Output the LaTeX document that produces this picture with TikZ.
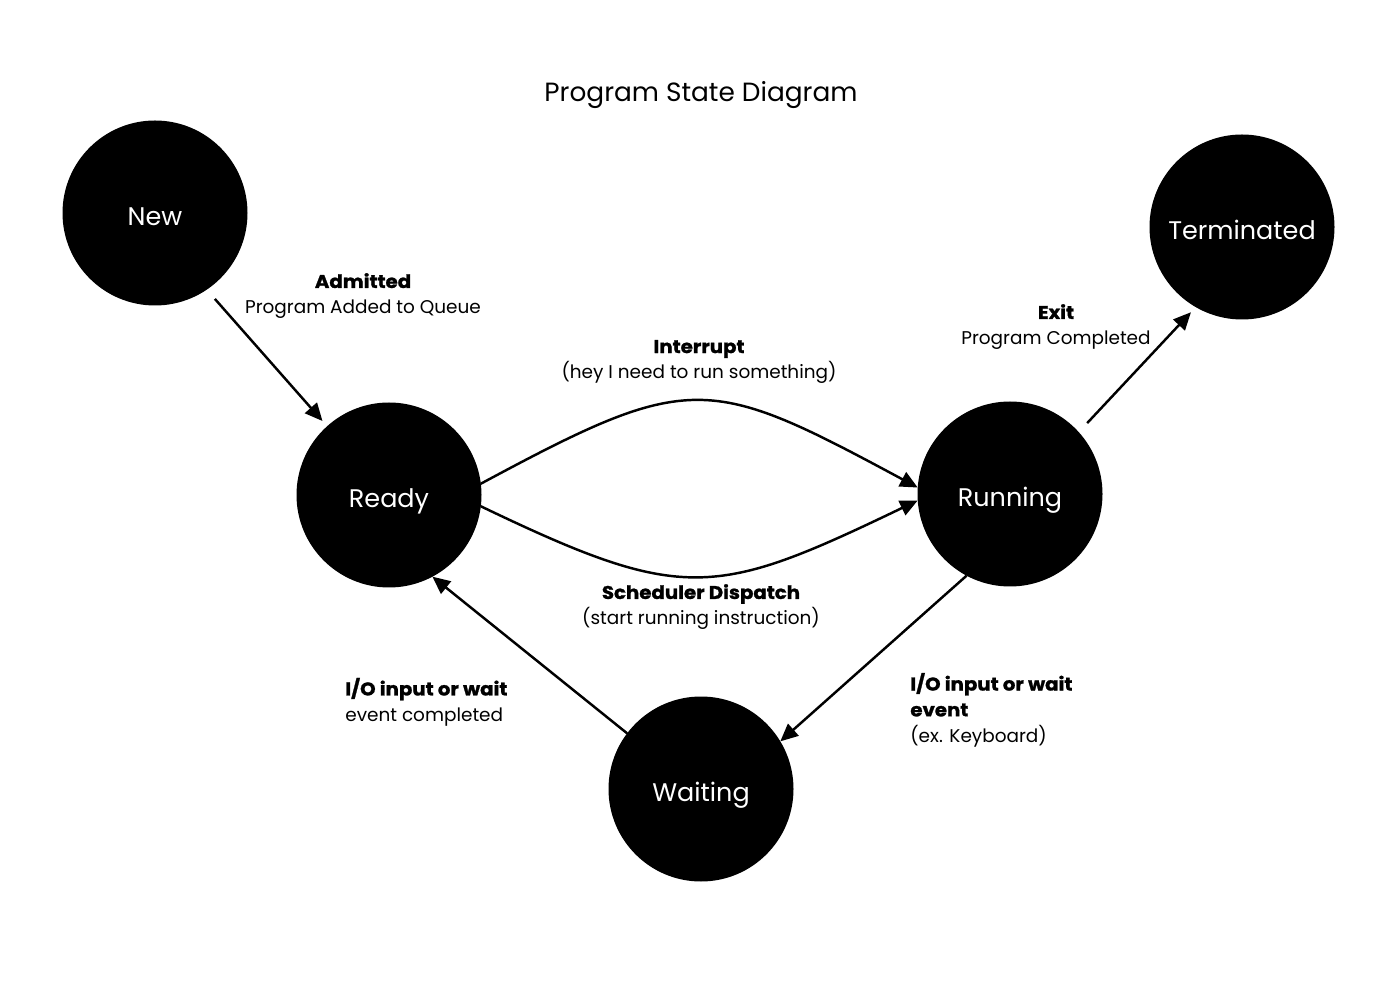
\documentclass[tikz,border=0pt]{standalone}
\usepackage{fontspec}
\setmainfont{Poppins}[BoldFeatures={FakeStretch=1.07,FakeBold=1.2}]
\usetikzlibrary{arrows.meta,positioning}

\begin{document}
\begin{tikzpicture}[
  st/.style={circle,fill=black,minimum size=3.7cm,inner sep=0pt,outer sep=0pt,
             text=white,text height=15pt,text depth=1pt,
             font=\fontsize{14.5}{17}\selectfont},
  lbl/.style={align=center,font=\fontsize{10.5}{14.7}\selectfont,inner sep=0pt},
  lbll/.style={lbl,align=left,anchor=west},
  ar/.style={-{Triangle[length=10pt,width=9pt]},line width=1.4pt},
  gap/.style={shorten <=7pt,shorten >=4pt}]

\useasboundingbox (0,0) rectangle (28,20.14);

\node[font=\fontsize{15}{18}\selectfont] (title) at (14.02,18.24) {Program State Diagram};

\node[st] (new) at (3.10,15.88) {New};
\node[st] (term) at (24.84,15.60) {Terminated};
\node[st] (rdy) at (7.78,10.24) {Ready};
\node[st] (run) at (20.20,10.26) {Running};
\node[st] (wait) at (14.02,4.36) {Waiting};

\draw[ar,gap] (new.-56) -- (rdy.132);
\draw[ar] (rdy.7) .. controls +(4.2,2.26) and +(-4.2,2.26) .. (run.176);
\draw[ar] (rdy.-7) .. controls +(4.06,-1.95) and +(-4.06,-1.95) .. (run.184);
\draw[ar,gap] (run.42) -- (term.240);
\draw[ar] (run.242) -- (wait.31);
\draw[ar] (wait.143) -- (rdy.298);

\node[lbl] (adm) at (7.26,14.22) {\textbf{Admitted}\\Program Added to Queue};
\node[lbl] (intr) at (13.98,12.90) {\textbf{Interrupt}\\(hey I need to run something)};
\node[lbl] (disp) at (14.02,8.00) {\textbf{Scheduler Dispatch}\\(start running instruction)};
\node[lbl] (exit) at (21.12,13.60) {\textbf{Exit}\\Program Completed};
\node[lbll] (iodone) at (6.90,6.10) {\textbf{I/O input or wait}\\event completed};
\node[lbll] (iowait) at (18.20,5.94) {\textbf{I/O input or wait}\\\textbf{event}\\(ex. Keyboard)};
\end{tikzpicture}
\end{document}
